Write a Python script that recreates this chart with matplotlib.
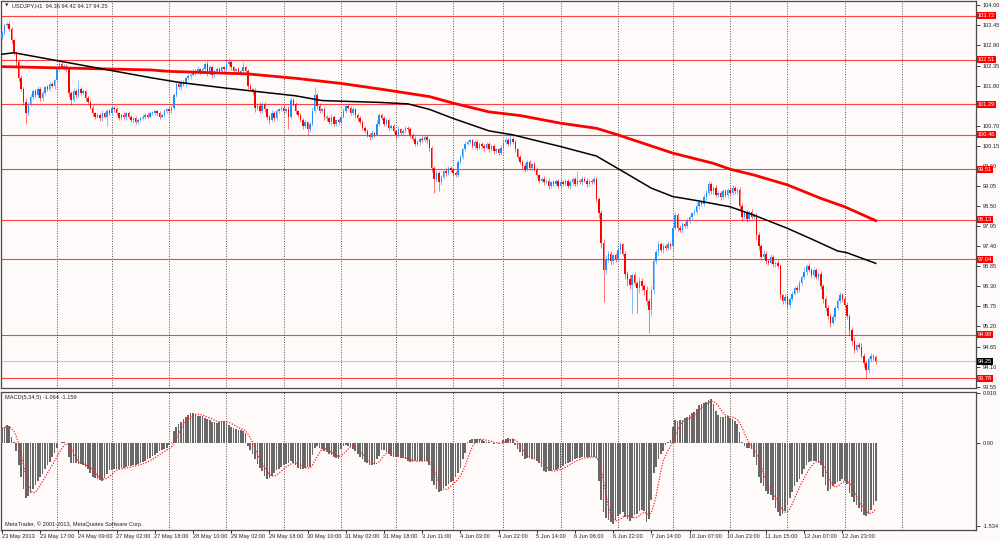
import matplotlib
matplotlib.use("Agg")
import matplotlib.pyplot as plt
import numpy as np
import pandas as pd

plt.rcParams["font.family"] = ["Liberation Sans", "DejaVu Sans"]

# ---- price data (USDJPY H1) ----
first_open = 103.10
closes = [
    103.25, 103.45, 103.50, 103.35, 103.05, 102.70, 102.45, 102.00, 101.70, 101.35,
    101.05, 101.30, 101.50, 101.65, 101.55, 101.70, 101.45, 101.60, 101.75, 101.70,
    101.85, 101.80, 101.95, 102.25, 102.40, 102.30, 102.35, 102.25, 101.60, 101.40,
    101.65, 101.55, 101.70, 101.60, 101.65, 101.45, 101.35, 101.20, 101.05, 100.95,
    101.00, 100.90, 101.05, 100.95, 101.10, 101.05, 101.20, 101.15, 101.05, 100.90,
    101.00, 100.95, 101.05, 100.95, 100.85, 100.90, 100.80, 100.85, 100.90, 100.95,
    101.00, 100.95, 101.05, 101.05, 101.10, 101.05, 100.95, 101.00, 101.10, 101.15,
    101.10, 101.20, 101.55, 101.85, 101.75, 101.90, 101.85, 102.00, 102.05, 102.10,
    102.20, 102.15, 102.25, 102.20, 102.25, 102.40, 102.15, 102.30, 102.10, 102.20,
    102.25, 102.20, 102.30, 102.25, 102.40, 102.45, 102.30, 102.20, 102.25, 102.15,
    102.20, 102.30, 102.20, 101.80, 101.70, 101.65, 101.20, 101.25, 101.10, 101.30,
    101.15, 100.95, 100.85, 101.05, 100.90, 101.10, 101.15, 101.20, 101.10, 101.15,
    100.95, 101.40, 101.30, 101.10, 101.00, 100.85, 100.70, 100.80, 100.60, 100.75,
    101.10, 101.55, 101.25, 101.10, 101.15, 100.95, 100.90, 100.80, 100.95, 100.75,
    100.85, 100.80, 100.95, 101.10, 101.25, 101.20, 101.05, 101.15, 101.00, 100.90,
    100.80, 100.65, 100.55, 100.45, 100.40, 100.50, 100.45, 100.75, 101.00, 100.90,
    100.75, 100.85, 100.65, 100.70, 100.55, 100.45, 100.60, 100.50, 100.55, 100.65,
    100.60, 100.45, 100.35, 100.20, 100.25, 100.35, 100.30, 100.40, 100.30, 100.10,
    99.55, 99.25, 99.40, 99.15, 99.30, 99.45, 99.40, 99.55, 99.50, 99.40,
    99.35, 99.70, 99.85, 100.05, 100.20, 100.25, 100.30, 100.15, 100.25, 100.10,
    100.20, 100.15, 100.10, 100.20, 100.05, 100.15, 100.00, 100.05, 99.95, 100.10,
    100.25, 100.30, 100.20, 100.35, 100.25, 100.05, 99.85, 99.70, 99.60, 99.50,
    99.70, 99.55, 99.65, 99.50, 99.35, 99.20, 99.25, 99.15, 99.20, 99.05,
    99.15, 99.10, 99.20, 99.05, 99.15, 99.10, 99.20, 99.05, 99.15, 99.25,
    99.10, 99.20, 99.15, 99.25, 99.20, 99.10, 99.20, 99.15, 99.25, 98.70,
    98.30, 97.50, 96.75, 97.05, 97.20, 97.00, 97.15, 97.05, 97.30, 97.45,
    97.20, 96.65, 96.50, 96.35, 96.60, 96.40, 96.25, 96.45, 96.30, 96.20,
    95.90, 95.65, 96.20, 97.00, 97.25, 97.45, 97.30, 97.40, 97.35, 97.45,
    97.40, 97.90, 98.25, 97.90, 97.85, 98.00, 97.95, 98.10, 98.20, 98.30,
    98.35, 98.50, 98.60, 98.55, 98.75, 98.85, 99.10, 98.90, 99.00, 98.80,
    98.85, 98.75, 98.90, 98.80, 98.95, 98.85, 99.00, 98.90, 98.95, 98.50,
    98.20, 98.30, 98.15, 98.35, 98.20, 98.25, 97.70, 97.40, 97.10, 97.20,
    97.00, 96.95, 97.10, 96.90, 96.95, 96.85, 96.05, 95.90, 96.00, 95.80,
    95.95, 96.10, 96.25, 96.20, 96.40, 96.55, 96.70, 96.85, 96.75, 96.60,
    96.75, 96.55, 96.65, 96.30, 95.95, 95.70, 95.50, 95.30, 95.45, 95.70,
    95.90, 96.05, 95.95, 95.80, 95.50, 95.10, 94.80, 94.55, 94.70, 94.65,
    94.40, 94.20, 94.00, 94.30, 94.40, 94.36, 94.25,
]
# wick lengths above / below the body, in hundredths of a yen
up_wick = [
    5, 5, 5, 8, 6, 4, 6, 5, 8, 6, 10, 6, 8, 5, 6, 8, 5, 6, 4, 7,
    5, 6, 4, 8, 10, 6, 5, 4, 7, 6, 8, 6, 25, 5, 6, 4, 6, 5, 8, 4,
    6, 5, 7, 4, 6, 5, 8, 5, 6, 4, 5, 7, 4, 6, 5, 4, 6, 5, 4, 6,
    5, 4, 6, 5, 7, 4, 6, 5, 6, 4, 5, 8, 6, 4, 8, 6, 5, 4, 6, 5,
    6, 5, 8, 4, 6, 5, 8, 6, 5, 4, 5, 6, 4, 5, 8, 10, 6, 5, 4, 6,
    5, 15, 5, 6, 5, 4, 8, 6, 10, 5, 6, 5, 4, 7, 5, 6, 4, 5, 6, 4,
    8, 10, 6, 5, 4, 6, 5, 8, 4, 6, 8, 22, 5, 6, 4, 6, 5, 4, 6, 5,
    4, 6, 5, 8, 6, 5, 4, 6, 5, 4, 6, 5, 4, 6, 5, 8, 4, 12, 6, 5,
    6, 5, 4, 6, 5, 4, 8, 5, 6, 4, 5, 6, 4, 6, 5, 4, 6, 8, 5, 6,
    5, 6, 8, 5, 6, 4, 8, 5, 6, 4, 5, 6, 4, 5, 8, 6, 5, 4, 6, 5,
    6, 5, 4, 6, 5, 4, 6, 5, 4, 6, 5, 8, 6, 15, 6, 5, 4, 6, 5, 8,
    5, 6, 4, 5, 6, 4, 5, 6, 4, 6, 5, 6, 4, 5, 8, 6, 5, 4, 6, 5,
    4, 25, 5, 6, 4, 6, 5, 4, 6, 5, 6, 8, 10, 12, 8, 6, 5, 6, 8, 6,
    5, 6, 8, 10, 6, 8, 6, 10, 8, 6, 12, 8, 10, 8, 6, 10, 6, 8, 6, 8,
    6, 8, 10, 6, 8, 6, 5, 8, 6, 5, 6, 8, 6, 5, 8, 10, 8, 6, 5, 8,
    6, 5, 8, 6, 5, 6, 8, 6, 5, 6, 8, 6, 10, 5, 8, 6, 5, 8, 6, 10,
    6, 5, 8, 6, 5, 8, 6, 5, 8, 6, 5, 8, 6, 10, 8, 6, 12, 6, 8, 6,
    8, 6, 5, 8, 6, 8, 10, 6, 8, 6, 8, 10, 6, 8, 6, 5, 8, 10, 6, 8,
    10, 8, 6, 10, 8, 6, 6,
]
down_wick = [
    6, 5, 4, 6, 8, 6, 10, 8, 6, 8, 30, 6, 5, 8, 6, 5, 8, 6, 5, 4,
    6, 5, 8, 4, 6, 5, 6, 8, 10, 12, 6, 8, 5, 6, 4, 8, 6, 5, 8, 6,
    5, 8, 6, 5, 25, 6, 5, 8, 6, 5, 4, 6, 8, 5, 6, 8, 5, 6, 4, 5,
    6, 5, 4, 6, 5, 8, 6, 4, 5, 6, 5, 4, 6, 5, 4, 6, 5, 8, 4, 6,
    5, 6, 4, 8, 5, 6, 10, 5, 8, 6, 5, 4, 6, 5, 4, 6, 8, 5, 6, 4,
    5, 6, 4, 8, 6, 10, 12, 8, 6, 5, 8, 6, 10, 5, 6, 4, 6, 5, 4, 6,
    35, 6, 5, 8, 6, 5, 8, 6, 15, 6, 5, 6, 8, 5, 6, 8, 6, 5, 8, 6,
    5, 6, 4, 5, 6, 4, 6, 5, 8, 6, 5, 8, 6, 5, 8, 6, 5, 4, 6, 5,
    6, 5, 8, 4, 6, 8, 5, 6, 4, 5, 6, 8, 6, 5, 6, 8, 5, 4, 6, 10,
    12, 39, 8, 25, 6, 5, 8, 5, 6, 8, 6, 5, 4, 6, 5, 4, 6, 5, 8, 6,
    5, 6, 8, 5, 6, 4, 8, 6, 5, 6, 5, 4, 6, 5, 4, 8, 6, 5, 8, 6,
    5, 6, 8, 5, 6, 8, 5, 6, 4, 8, 5, 6, 4, 6, 5, 4, 6, 5, 8, 6,
    5, 6, 4, 6, 5, 8, 6, 5, 4, 10, 12, 15, 88, 10, 8, 12, 10, 8, 6, 10,
    8, 15, 20, 12, 80, 10, 67, 12, 10, 15, 12, 62, 15, 10, 8, 10, 6, 8, 6, 5,
    8, 10, 6, 8, 6, 8, 5, 6, 8, 6, 5, 6, 8, 6, 5, 8, 6, 8, 6, 5,
    6, 8, 5, 6, 8, 6, 5, 8, 6, 10, 12, 6, 8, 6, 5, 8, 12, 10, 8, 6,
    8, 6, 5, 8, 6, 5, 10, 8, 6, 10, 8, 6, 5, 8, 6, 5, 6, 8, 6, 8,
    6, 5, 8, 6, 10, 8, 10, 12, 6, 8, 6, 5, 8, 6, 10, 12, 10, 8, 6, 8,
    6, 10, 22, 8, 6, 8, 8,
]

# moving averages (red = slow, black = faster), read at a few bars
red_ma_bars = [0, 62, 70, 94, 103, 123, 142, 158, 179, 189, 204, 217, 234, 249, 258,
               281, 298, 305, 315, 329, 343, 353, 366]
red_ma_vals = [102.32, 102.23, 102.19, 102.14, 102.12, 102.00, 101.86, 101.71, 101.50, 101.32,
               101.08, 100.98, 100.77, 100.63, 100.45, 99.95, 99.67, 99.51, 99.35, 99.08,
               98.71, 98.48, 98.10]
black_ma_bars = [0, 5, 62, 74, 94, 123, 134, 158, 170, 179, 189, 204, 214, 234, 249, 259,
                 272, 281, 291, 305, 315, 329, 340, 350, 354, 366]
black_ma_vals = [102.66, 102.70, 102.02, 101.89, 101.73, 101.52, 101.39, 101.34, 101.30, 101.15,
                 100.90, 100.56, 100.45, 100.13, 99.87, 99.49, 98.99, 98.76, 98.65, 98.48,
                 98.25, 97.89, 97.57, 97.27, 97.22, 96.93]

# MACD(5,34,5) main line (histogram)
macd_main = [
    0.28, 0.30, 0.33, 0.32, 0.12, 0.02, -0.15, -0.40, -0.62, -0.85,
    -1.02, -0.97, -0.92, -0.85, -0.78, -0.70, -0.63, -0.57, -0.48, -0.40,
    -0.34, -0.26, -0.18, -0.08, 0.00, 0.02, 0.03, 0.01, -0.25, -0.36,
    -0.36, -0.37, -0.38, -0.39, -0.41, -0.44, -0.48, -0.55, -0.62, -0.65,
    -0.66, -0.68, -0.69, -0.64, -0.56, -0.50, -0.49, -0.48, -0.48, -0.47,
    -0.46, -0.45, -0.44, -0.43, -0.42, -0.41, -0.40, -0.38, -0.37, -0.35,
    -0.33, -0.30, -0.27, -0.24, -0.21, -0.18, -0.15, -0.13, -0.11, -0.08,
    -0.04, 0.02, 0.23, 0.30, 0.36, 0.40, 0.45, 0.49, 0.53, 0.56,
    0.55, 0.52, 0.51, 0.51, 0.50, 0.47, 0.44, 0.42, 0.40, 0.39,
    0.38, 0.40, 0.41, 0.41, 0.38, 0.33, 0.30, 0.29, 0.27, 0.25,
    0.24, 0.23, 0.18, -0.05, -0.12, -0.20, -0.29, -0.38, -0.46, -0.52,
    -0.60, -0.66, -0.64, -0.60, -0.55, -0.50, -0.47, -0.44, -0.41, -0.38,
    -0.36, -0.33, -0.36, -0.40, -0.46, -0.48, -0.47, -0.46, -0.44, -0.44,
    -0.22, -0.08, -0.06, -0.09, -0.11, -0.14, -0.17, -0.20, -0.22, -0.25,
    -0.28, -0.29, -0.10, -0.06, -0.04, -0.05, -0.07, -0.10, -0.14, -0.20,
    -0.26, -0.30, -0.34, -0.37, -0.40, -0.41, -0.38, -0.30, -0.23, -0.12,
    -0.12, -0.16, -0.20, -0.23, -0.25, -0.26, -0.26, -0.27, -0.28, -0.29,
    -0.32, -0.35, -0.34, -0.33, -0.33, -0.32, -0.33, -0.33, -0.32, -0.40,
    -0.69, -0.78, -0.85, -0.91, -0.88, -0.83, -0.79, -0.75, -0.72, -0.69,
    -0.62, -0.55, -0.45, -0.30, -0.18, 0.02, 0.05, 0.07, 0.08, 0.08,
    0.07, 0.06, 0.04, 0.03, 0.02, 0.01, -0.01, 0.00, -0.01, 0.00,
    0.06, 0.08, 0.09, 0.08, 0.07, -0.04, -0.10, -0.17, -0.24, -0.29,
    -0.28, -0.28, -0.29, -0.30, -0.33, -0.36, -0.44, -0.52, -0.53, -0.52,
    -0.51, -0.50, -0.49, -0.48, -0.46, -0.42, -0.39, -0.36, -0.34, -0.32,
    -0.30, -0.28, -0.27, -0.26, -0.26, -0.26, -0.25, -0.26, -0.26, -0.27,
    -0.69, -1.05, -1.28, -1.38, -1.42, -1.46, -1.49, -1.42, -1.34, -1.31,
    -1.28, -1.36, -1.40, -1.43, -1.38, -1.33, -1.30, -1.26, -1.23, -1.25,
    -1.46, -1.40, -1.05, -0.55, -0.44, -0.30, -0.20, -0.14, -0.04, 0.02,
    0.05, 0.30, 0.42, 0.41, 0.42, 0.43, 0.46, 0.48, 0.52, 0.55,
    0.58, 0.64, 0.70, 0.73, 0.75, 0.77, 0.80, 0.82, 0.72, 0.60,
    0.53, 0.48, 0.49, 0.51, 0.50, 0.47, 0.44, 0.41, 0.36, 0.20,
    0.03, -0.06, -0.08, -0.09, -0.10, -0.25, -0.40, -0.62, -0.74, -0.80,
    -0.88, -0.94, -0.96, -1.05, -1.20, -1.28, -1.34, -1.30, -1.25, -1.15,
    -1.02, -0.90, -0.80, -0.72, -0.66, -0.57, -0.48, -0.40, -0.35, -0.33,
    -0.32, -0.33, -0.36, -0.40, -0.62, -0.78, -0.88, -0.84, -0.80, -0.76,
    -0.72, -0.69, -0.66, -0.70, -0.76, -0.92, -1.00, -1.08, -1.14, -1.20,
    -1.28, -1.32, -1.34, -1.30, -1.24, -1.15, -1.06,
]

levels = [103.72, 102.51, 101.29, 100.46, 99.51, 98.13, 97.04, 94.98, 93.78]
bid = 94.25
price_ticks = [104.00, 103.45, 102.90, 102.35, 101.80, 101.25, 100.70, 100.15, 99.60, 99.05,
               98.50, 97.95, 97.40, 96.85, 96.30, 95.75, 95.20, 94.65, 94.10, 93.55]
hidden_ticks = [101.25]  # fully covered by the 101.29 level label in the original
macd_ticks = [0.919, 0.0, -1.534]
macd_tick_labels = ["0.919", "0.00", "-1.534"]
date_labels = ["23 May 2013", "23 May 17:00", "24 May 09:00", "27 May 02:00", "27 May 18:00",
               "28 May 10:00", "29 May 02:00", "29 May 18:00", "30 May 10:00", "31 May 02:00",
               "31 May 18:00", "3 Jun 11:00", "4 Jun 03:00", "4 Jun 22:00", "5 Jun 14:00",
               "6 Jun 06:00", "6 Jun 22:00", "7 Jun 14:00", "10 Jun 07:00", "10 Jun 23:00",
               "11 Jun 15:00", "12 Jun 07:00", "12 Jun 23:00"]
grid_bars = [23, 46, 70, 94, 118, 142, 165, 189, 210, 234, 258, 281, 305, 329, 353, 377]

# ---- build OHLC ----
closes = np.array(closes)
opens = np.r_[first_open, closes[:-1]]
highs = np.maximum(opens, closes) + np.array(up_wick) / 100.0
lows = np.minimum(opens, closes) - np.array(down_wick) / 100.0
idx = np.arange(len(closes))
macd = pd.Series(macd_main)
signal = macd.rolling(5, min_periods=1).mean()

bg = "#fffafa"
fs = 4.1
W, H = 1000, 541
fig = plt.figure(figsize=(W / 100, H / 100), dpi=100, facecolor=bg)


def box(x0, y0, x1, y1):
    return [x0 / W, 1 - y1 / H, (x1 - x0) / W, (y1 - y0) / H]


ax = fig.add_axes(box(1, 1, 976, 388))
axm = fig.add_axes(box(1, 392, 976, 530), sharex=ax)
for a in (ax, axm):
    a.set_facecolor(bg)
    for s in a.spines.values():
        s.set_color("#4a4a4a")
        s.set_linewidth(0.9)
    for g in grid_bars:
        a.axvline(g, color="#505050", lw=0.7, ls=(0, (1, 1.6)), zorder=1)

ax.set_xlim(-0.42, 408.0)
ax.set_ylim(93.515, 104.118)
axm.set_ylim(-1.604, 0.946)

# support / resistance lines
for lv in levels:
    ax.axhline(lv, color="#ff4040", lw=0.8, zorder=2)
ax.axhline(bid, color="#c8c8c8", lw=0.8, zorder=2)

# candles
bull = closes >= opens
for mask, col in ((bull, "#1e90ff"), (~bull, "#ff0000")):
    ax.vlines(idx[mask], lows[mask], highs[mask], color=col, lw=0.7, alpha=0.55, zorder=3)
    body = np.maximum(np.abs(closes[mask] - opens[mask]), 0.02)
    ax.bar(idx[mask], body, bottom=np.minimum(opens, closes)[mask], width=0.62,
           color=col, lw=0, zorder=4)

# moving averages
ax.plot(red_ma_bars, red_ma_vals, color="#ff0000", lw=2.0, zorder=5, solid_joinstyle="round")
ax.plot(black_ma_bars, black_ma_vals, color="#000000", lw=1.1, zorder=5, solid_joinstyle="round")

# right price scale
ax.yaxis.tick_right()
ax.set_yticks(price_ticks)
ax.set_yticklabels(["" if t in hidden_ticks else f"{t:.2f}" for t in price_ticks])
ax.tick_params(axis="y", direction="out", length=3, width=0.6, pad=2, labelsize=fs,
               colors="#202020")
ax.tick_params(axis="x", bottom=False, labelbottom=False)

ytr = ax.get_yaxis_transform()
for lv in levels:
    ax.text(1.002, lv, f"{lv:.2f}", transform=ytr, fontsize=fs, color="white", ha="left",
            va="center", clip_on=False, zorder=10,
            bbox=dict(boxstyle="square,pad=0.2", fc="#ff0000", ec="none"))
ax.text(1.002, bid, f"{bid:.2f}", transform=ytr, fontsize=fs, color="white", ha="left",
        va="center", clip_on=False, zorder=10,
        bbox=dict(boxstyle="square,pad=0.2", fc="#000000", ec="none"))

ax.text(0.004, 0.988, "\u25bc", transform=ax.transAxes, fontsize=3.2, va="center", ha="left",
        color="#303030", family="DejaVu Sans")
ax.text(0.011, 0.988, "USDJPY,H1  94.36 94.42 94.17 94.25", transform=ax.transAxes,
        fontsize=fs, va="center", ha="left", color="#202020")

# MACD window
axm.bar(idx, macd_main, width=0.7, color="#686868", lw=0, zorder=3)
axm.plot(idx, signal, color="#ff2020", lw=0.9, ls=(0, (1, 1.2)), zorder=4)
axm.yaxis.tick_right()
axm.set_yticks(macd_ticks)
axm.set_yticklabels(macd_tick_labels)
axm.tick_params(axis="y", direction="out", length=3, width=0.6, pad=2, labelsize=fs,
                colors="#202020")
axm.set_xticks(np.arange(0, len(date_labels) * 16, 16))
axm.tick_params(axis="x", direction="out", length=2, width=0.6, labelbottom=False)
xtr = axm.get_xaxis_transform()
for k, lab in enumerate(date_labels):
    axm.text(k * 16 - 0.2, -0.045, lab, transform=xtr, fontsize=fs, ha="left", va="center",
             color="#202020", clip_on=False)
axm.text(0.004, 0.962, "MACD(5,34,5) -1.064 -1.159", transform=axm.transAxes, fontsize=fs,
         ha="left", va="center", color="#202020")
axm.text(0.004, 0.04, "MetaTrader, \u00a9 2001-2013, MetaQuotes Software Corp.",
         transform=axm.transAxes, fontsize=fs, ha="left", va="center", color="#202020")

fig.savefig("out.png", dpi=100, facecolor=bg)
